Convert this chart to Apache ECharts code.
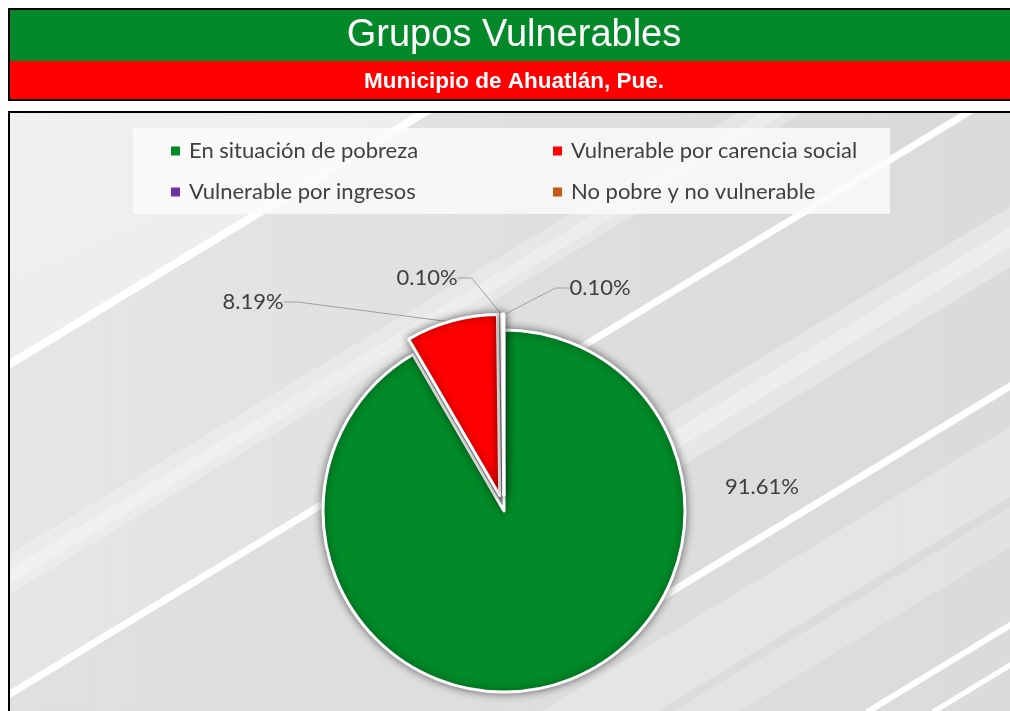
<!DOCTYPE html>
<html>
<head>
<meta charset="utf-8">
<script src="https://cdn.jsdelivr.net/npm/echarts@6/dist/echarts.min.js"></script>
<style>
  html, body { margin: 0; padding: 0; background: #fff; }
  #chart { width: 1010px; height: 711px; }
</style>
</head>
<body>
<div id="chart"></div>
<script>
// datos del grafico
var categories = ['En situación de pobreza', 'Vulnerable por carencia social', 'Vulnerable por ingresos', 'No pobre y no vulnerable'];
var values = [91.61, 8.19, 0.10, 0.10];
var colors = ['#008A28', '#FF0000', '#7030A0', '#C55A11'];
var exploded = [false, true, true, true];
var legendLeft = [categories[0], categories[2]];
var legendRight = [categories[1], categories[3]];

// donde van las etiquetas (centro del texto)
var labelSpots = [[762, 487], [253, 302], [427, 278], [600, 288]];

// fondo: franjas diagonales (pendiente comun)
var SLOPE = 0.607;
function stripe(x1, y1, x2, w) {
    return { type: 'line', silent: true, shape: { x1: x1, y1: y1, x2: x2, y2: y1 - (x2 - x1) * SLOPE }, style: { stroke: '#fff', lineWidth: w } };
}
// banda entre dos rectas y = c - SLOPE*x, de x1 a x2
function band(c1, c2, x1, x2, fill) {
    return { type: 'polygon', silent: true, shape: { points: [
        [x1, c1 - SLOPE * x1], [x2, c1 - SLOPE * x2], [x2, c2 - SLOPE * x2], [x1, c2 - SLOPE * x1]
    ] }, style: { fill: fill } };
}

var labelOpt = {
    formatter: function (p) { return p.value.toFixed(2) + '%'; },
    fontSize: 22,
    color: '#404040',
    fontFamily: 'Lato'
};

var myChart = echarts.init(document.getElementById('chart'));
myChart.setOption({
    animation: false,
    graphic: [
        // fondo del area del grafico
        { type: 'rect', silent: true, shape: { x: 9, y: 112, width: 1010, height: 610 },
          style: { fill: new echarts.graphic.LinearGradient(0, 0, 1, 0, [{ offset: 0, color: '#e0e0e0' }, { offset: 1, color: '#dbdbdb' }]) } },
        // zona clara arriba a la izquierda
        band(-400, 370, 0, 1010, new echarts.graphic.LinearGradient(0, 0, 0.6, 1, [{ offset: 0, color: '#fbfbfb' }, { offset: 1, color: '#ebebeb' }])),
        // entre la primera y la segunda franja
        band(370, 700, 0, 1010, new echarts.graphic.LinearGradient(0, 0, 1, 0, [{ offset: 0, color: '#e6e6e6' }, { offset: 0.6, color: '#dedede' }, { offset: 1, color: '#d8d8d8' }])),
        band(560, 600, 0, 1010, 'rgba(255,255,255,0.25)'),
        band(575, 590, 0, 1010, 'rgba(255,255,255,0.25)'),
        band(820, 880, 600, 1010, 'rgba(255,255,255,0.3)'),
        band(840, 860, 600, 1010, 'rgba(255,255,255,0.3)'),
        band(1040, 1110, 530, 1010, 'rgba(255,255,255,0.25)'),
        band(1120, 1160, 660, 1010, 'rgba(255,255,255,0.2)'),
        stripe(5, 367, 460, 8),
        stripe(5, 697, 1010, 7),
        stripe(600, 635, 1015, 7),
        stripe(867, 712, 1015, 6),
        stripe(933, 712, 1015, 5),
        // caja de la leyenda
        { type: 'rect', silent: true, shape: { x: 133, y: 128, width: 757, height: 86 }, style: { fill: 'rgba(250,250,250,0.85)' } },
        // margenes blancos
        { type: 'rect', silent: true, shape: { x: 0, y: 0, width: 1010, height: 111 }, style: { fill: '#fff' } },
        { type: 'rect', silent: true, shape: { x: 0, y: 0, width: 9, height: 711 }, style: { fill: '#fff' } },
        // encabezado
        { type: 'rect', silent: true, shape: { x: 8, y: 8, width: 1010, height: 93 }, style: { fill: '#000' } },
        { type: 'rect', silent: true, shape: { x: 10, y: 10, width: 1010, height: 51 }, style: { fill: '#03892A' } },
        { type: 'rect', silent: true, shape: { x: 10, y: 61, width: 1010, height: 38 }, style: { fill: '#FF0000' } },
        { type: 'text', silent: true, z: 10, style: { text: 'Grupos Vulnerables', x: 514, y: 36, textAlign: 'center', textVerticalAlign: 'middle', fill: '#fff', font: '38px "Liberation Sans"' } },
        { type: 'text', silent: true, z: 10, style: { text: 'Municipio de Ahuatlán, Pue.', x: 514, y: 82, textAlign: 'center', textVerticalAlign: 'middle', fill: '#fff', font: 'bold 22.5px "Liberation Sans"' } },
        // marco negro
        { type: 'rect', silent: true, z: 20, shape: { x: 9, y: 112, width: 1010, height: 610 }, style: { fill: 'none', stroke: '#000', lineWidth: 2 } }
    ],
    legend: [
        {
            data: legendLeft, orient: 'vertical', left: 166, top: 133, itemGap: 15,
            icon: 'rect', itemWidth: 9, itemHeight: 9, selectedMode: false,
            itemStyle: { borderWidth: 0, shadowBlur: 0 },
            textStyle: { fontSize: 22, lineHeight: 26, color: '#404040', fontFamily: 'Lato', padding: [0, 0, 0, 4] }
        },
        {
            data: legendRight, orient: 'vertical', left: 548, top: 133, itemGap: 15,
            icon: 'rect', itemWidth: 9, itemHeight: 9, selectedMode: false,
            itemStyle: { borderWidth: 0, shadowBlur: 0 },
            textStyle: { fontSize: 22, lineHeight: 26, color: '#404040', fontFamily: 'Lato', padding: [0, 0, 0, 4] }
        }
    ],
    series: [
        {
            // sectores visibles
            type: 'pie',
            center: [504, 511],
            radius: 181,
            startAngle: 90,
            clockwise: true,
            selectedMode: 'multiple',
            selectedOffset: 16,
            itemStyle: {
                borderColor: '#fff',
                borderWidth: 3,
                shadowBlur: 9,
                shadowColor: 'rgba(0,0,0,0.5)'
            },
            label: { show: false },
            labelLine: { show: false },
            emphasis: { disabled: true },
            data: categories.map(function (n, i) {
                return { name: n, value: values[i], selected: exploded[i], itemStyle: { color: colors[i] } };
            })
        },
        {
            // solo etiquetas
            type: 'pie',
            silent: true,
            center: [504, 511],
            radius: 196,
            startAngle: 90,
            clockwise: true,
            avoidLabelOverlap: false,
            itemStyle: { color: 'rgba(0,0,0,0)', borderWidth: 0 },
            label: labelOpt,
            labelLine: { show: true, length2: 14, lineStyle: { color: '#a0a0a0', width: 1 } },
            labelLayout: function (p) {
                var s = labelSpots[p.dataIndex];
                return { x: s[0], y: s[1], align: 'center', verticalAlign: 'middle' };
            },
            emphasis: { disabled: true },
            data: categories.map(function (n, i) {
                return { name: n, value: values[i], labelLine: { show: i > 0 } };
            })
        }
    ]
});
</script>
</body>
</html>
